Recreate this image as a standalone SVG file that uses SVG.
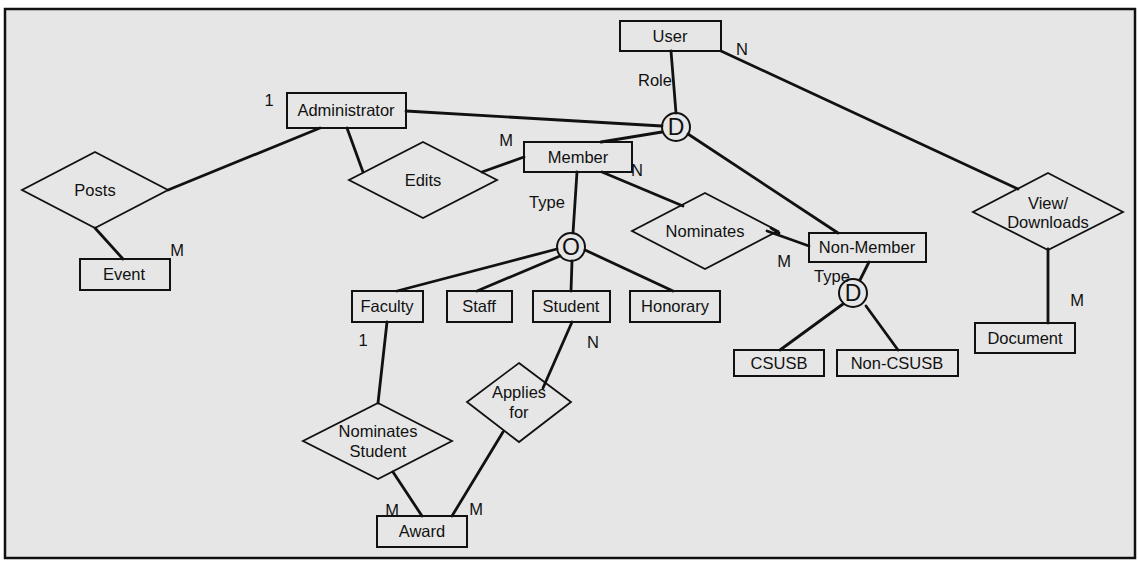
<svg xmlns="http://www.w3.org/2000/svg" width="1138" height="561" viewBox="0 0 1138 561">
  <style>
    .frame { fill: #e6e6e6; stroke: #111; stroke-width: 2.5; }
    .ent rect { fill: none; stroke: #111; stroke-width: 2; }
    .rel polygon { fill: none; stroke: #111; stroke-width: 1.8; }
    .gen circle { fill: none; stroke: #111; stroke-width: 2; }
    text { font-family: "Liberation Sans", Arial, sans-serif; font-size: 16.5px; fill: #111; text-anchor: middle; dominant-baseline: central; }
    .big { font-size: 23px; }
    .conn line { stroke: #111; stroke-width: 2.8; stroke-linecap: round; }
  </style>

  <rect width="1138" height="561" fill="#ffffff"/>
  <rect class="frame" x="5" y="9" width="1130" height="549"/>

  <!-- relationship lines -->
  <g id="connectors" class="conn">
    <line x1="671" y1="51" x2="676" y2="113"/>
    <line x1="406" y1="111" x2="662" y2="126"/>
    <line x1="662" y1="132" x2="601" y2="142"/>
    <line x1="688" y1="134" x2="838" y2="233"/>
    <line x1="721" y1="51" x2="1018" y2="189"/>
    <line x1="320" y1="128" x2="168" y2="190"/>
    <line x1="95" y1="228" x2="123" y2="259"/>
    <line x1="347" y1="128" x2="363" y2="172"/>
    <line x1="482" y1="172" x2="524" y2="157"/>
    <line x1="577" y1="172" x2="573" y2="233"/>
    <line x1="602" y1="172" x2="683" y2="206"/>
    <line x1="767" y1="231" x2="809" y2="246"/>
    <line x1="771" y1="228" x2="779" y2="233"/>
    <line x1="869" y1="262" x2="860" y2="280"/>
    <line x1="843" y1="304" x2="780" y2="350"/>
    <line x1="866" y1="306" x2="898" y2="350"/>
    <line x1="1048" y1="249" x2="1048" y2="323"/>
    <line x1="557" y1="249" x2="397" y2="291"/>
    <line x1="560" y1="256" x2="477" y2="291"/>
    <line x1="572" y1="261" x2="571" y2="291"/>
    <line x1="585" y1="250" x2="673" y2="291"/>
    <line x1="387" y1="322" x2="378" y2="403"/>
    <line x1="572" y1="322" x2="543" y2="388"/>
    <line x1="393" y1="472" x2="422" y2="516"/>
    <line x1="503" y1="432" x2="452" y2="516"/>
  </g>

  <!-- cardinality and role labels -->
  <g id="labels">
    <text x="269" y="100">1</text>
    <text x="655" y="80">Role</text>
    <text x="742" y="49">N</text>
    <text x="506" y="140">M</text>
    <text x="637" y="170">N</text>
    <text x="547" y="202">Type</text>
    <text x="177" y="250">M</text>
    <text x="784" y="261">M</text>
    <text x="832" y="276">Type</text>
    <text x="1077" y="300">M</text>
    <text x="363" y="340">1</text>
    <text x="593" y="342">N</text>
    <text x="392" y="510">M</text>
    <text x="476" y="509">M</text>
  </g>

  <!-- entities -->
  <g id="user" class="ent"><rect x="620" y="21" width="101" height="30"/><text x="670" y="36">User</text></g>
  <g id="administrator" class="ent"><rect x="287" y="93" width="119" height="35"/><text x="346" y="110">Administrator</text></g>
  <g id="member" class="ent"><rect x="524" y="142" width="108" height="30"/><text x="578" y="157">Member</text></g>
  <g id="non-member" class="ent"><rect x="809" y="233" width="117" height="29"/><text x="867" y="247">Non-Member</text></g>
  <g id="event" class="ent"><rect x="80" y="259" width="90" height="31"/><text x="124" y="274">Event</text></g>
  <g id="faculty" class="ent"><rect x="352" y="291" width="71" height="31"/><text x="387" y="306">Faculty</text></g>
  <g id="staff" class="ent"><rect x="447" y="291" width="65" height="31"/><text x="479" y="306">Staff</text></g>
  <g id="student" class="ent"><rect x="533" y="291" width="77" height="31"/><text x="571" y="306">Student</text></g>
  <g id="honorary" class="ent"><rect x="630" y="291" width="90" height="31"/><text x="675" y="306">Honorary</text></g>
  <g id="csusb" class="ent"><rect x="734" y="350" width="90" height="26"/><text x="779" y="363">CSUSB</text></g>
  <g id="non-csusb" class="ent"><rect x="837" y="350" width="121" height="26"/><text x="897" y="363">Non-CSUSB</text></g>
  <g id="document" class="ent"><rect x="975" y="323" width="100" height="30"/><text x="1025" y="338">Document</text></g>
  <g id="award" class="ent"><rect x="377" y="516" width="90" height="31"/><text x="422" y="531">Award</text></g>

  <!-- relationships -->
  <g id="posts" class="rel"><polygon points="95,152 168,190 95,228 22,190"/><text x="95" y="190">Posts</text></g>
  <g id="edits" class="rel"><polygon points="423,142 497,180 423,218 349,180"/><text x="423" y="180">Edits</text></g>
  <g id="nominates" class="rel"><polygon points="705,193 778,231 705,269 632,231"/><text x="705" y="231">Nominates</text></g>
  <g id="view-downloads" class="rel"><polygon points="1048,173 1123,212 1048,250 973,212"/><text x="1048" y="203">View/</text><text x="1048" y="222">Downloads</text></g>
  <g id="nominates-student" class="rel"><polygon points="378,403 452,441 378,479 303,441"/><text x="378" y="431">Nominates</text><text x="378" y="451">Student</text></g>
  <g id="applies-for" class="rel"><polygon points="519,363 571,402 519,442 467,402"/><text x="519" y="392">Applies</text><text x="519" y="412">for</text></g>

  <!-- specialisation circles -->
  <g id="role-disjoint" class="gen"><circle cx="676" cy="127" r="14"/><text class="big" x="676" y="127">D</text></g>
  <g id="type-overlap" class="gen"><circle cx="571" cy="247" r="14"/><text class="big" x="571" y="247">O</text></g>
  <g id="type-disjoint" class="gen"><circle cx="853" cy="293" r="14"/><text class="big" x="853" y="293">D</text></g>
</svg>
